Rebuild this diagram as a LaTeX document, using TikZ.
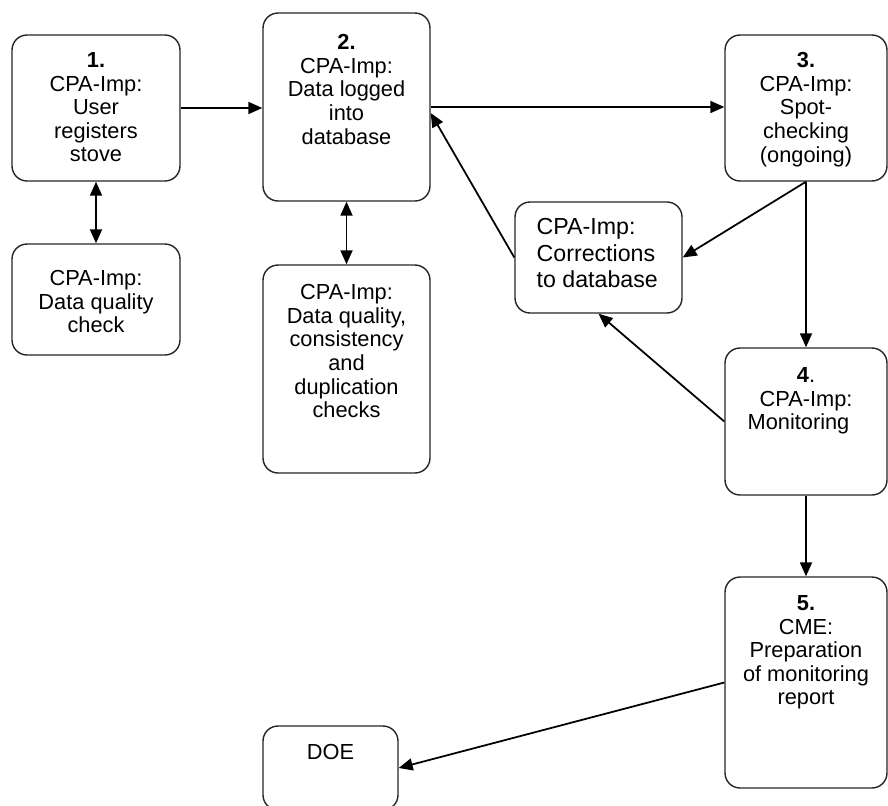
\documentclass[tikz,border=0pt]{standalone}
\usepackage{fontspec}
\setmainfont{Liberation Sans}
\usetikzlibrary{arrows.meta,positioning}

\tikzset{
  stage/.style={draw=black!85, line width=0.8pt, rounded corners=0.3cm, inner sep=0pt},
  stagetext/.style={align=center, inner sep=0pt, font=\fontsize{12.4}{13.4}\selectfont},
  flow/.style={-{Triangle[length=0.28cm,width=0.24cm]}, line width=1pt},
  twoway/.style={{Triangle[length=0.28cm,width=0.24cm]}-{Triangle[length=0.28cm,width=0.24cm]}, line width=1pt}
}

\begin{document}
\begin{tikzpicture}[x=0.02cm, y=-0.02cm]
  \useasboundingbox (0,0) rectangle (888,805);

  % boxes
  \node[stage, minimum width=3.36cm, minimum height=2.92cm] (s1)   at (96,108)    {};
  \node[stage, minimum width=3.36cm, minimum height=2.22cm] (chk1) at (96,299.5)  {};
  \node[stage, minimum width=3.34cm, minimum height=3.76cm] (s2)   at (346.5,107) {};
  \node[stage, minimum width=3.34cm, minimum height=4.16cm] (chk2) at (346.5,369) {};
  \node[stage, minimum width=3.24cm, minimum height=2.92cm] (s3)   at (806,108)   {};
  \node[stage, minimum width=3.34cm, minimum height=2.22cm] (corr) at (598.5,257.5) {};
  \node[stage, minimum width=3.24cm, minimum height=2.94cm] (s4)   at (806,421.5) {};
  \node[stage, minimum width=3.24cm, minimum height=4.22cm] (s5)   at (806,682.5) {};
  \node[stage, minimum width=2.70cm, minimum height=1.68cm] (doe)  at (330.5,768) {};

  % texts
  \node[stagetext, below=0.36cm of s1.north]   (s1txt)   {\textbf{1.}\\CPA-Imp:\\User\\registers\\stove};
  \node[stagetext, below=0.54cm of chk1.north] (chk1txt) {CPA-Imp:\\Data quality\\check};
  \node[stagetext, below=0.44cm of s2.north]   (s2txt)   {\textbf{2.}\\CPA-Imp:\\Data logged\\into\\database};
  \node[stagetext, below=0.40cm of chk2.north] (chk2txt) {CPA-Imp:\\Data quality,\\consistency\\and\\duplication\\checks};
  \node[stagetext, below=0.36cm of s3.north]   (s3txt)   {\textbf{3.}\\CPA-Imp:\\Spot-\\checking\\(ongoing)};
  \node[stagetext, align=left, font=\fontsize{13.2}{15.1}\selectfont,
        below right=0.34cm and 0.44cm of corr.north west] (corrtxt) {CPA-Imp:\\Corrections\\to database};
  \node[stagetext, below=0.40cm of s4.north]   (s4txt)   {\textbf{4}.\\CPA-Imp:\\Monitoring\kern0.3cm};
  \node[stagetext, below=0.38cm of s5.north]   (s5txt)   {\textbf{5.}\\CME:\\Preparation\\of monitoring\\report};
  \node[stagetext, below=0.38cm of doe.north]  (doetxt)  {DOE};

  % connectors
  \draw[flow]   (s1.east) -- (s1.east -| s2.west);
  \draw[twoway] (s1.south) -- (chk1.north);
  \draw[twoway] (s2.south) -- (chk2.north);
  \draw[flow]   (s2.east) -- (s2.east -| s3.west);
  \draw[flow]   (corr.west) -- ([yshift=-0.12cm]s2.east);
  \draw[flow]   (s3.south) -- (corr.east);
  \draw[flow]   (s3.south) -- (s4.north);
  \draw[flow]   (s4.west) -- (corr.south);
  \draw[flow]   (s4.south) -- (s5.north);
  \draw[flow]   (s5.west) -- (doe.east);
\end{tikzpicture}
\end{document}
